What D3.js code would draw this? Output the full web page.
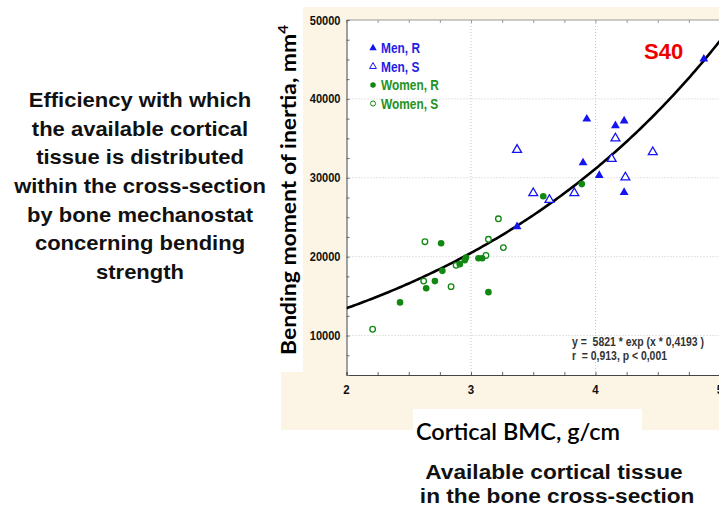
<!DOCTYPE html>
<html>
<head>
<meta charset="utf-8">
<script src="https://cdn.jsdelivr.net/npm/d3@7"></script>
<style>
  body { margin: 0; background: #fff; }
  svg { display: block; }
</style>
</head>
<body>
<div id="viz"></div>
<script>
const width = 719;
const height = 510;
const plot = {left: 346.5, right: 720, top: 20, bottom: 375};
const colorBlue = '#1414f0';
const colorGreen = '#118811';
const colorPanel = '#fcf5e6';
const narrowFont = 'bold 13.5px "Liberation Sans", Arial, sans-serif';

// Data: [cortical BMC g/cm, bending moment of inertia mm4]
const menR = [[3.93, 37450], [4.16, 36600], [4.23, 37200], [3.90, 31900], [4.03, 30300],
  [4.23, 28150], [3.37, 23800], [4.87, 45050]];
const menS = [[3.37, 33550], [4.16, 35000], [4.46, 33250], [4.13, 32400], [4.24, 30050],
  [3.50, 28050], [3.63, 27200], [3.83, 28050]];
const womenR = [[2.43, 14200], [2.76, 21700], [2.64, 16000], [2.71, 16900], [2.77, 18200],
  [2.91, 19050], [2.95, 19550], [2.96, 19900], [3.06, 19800], [3.09, 19800],
  [3.14, 15500], [3.58, 27650], [3.89, 29200]];
const womenS = [[2.21, 10800], [2.63, 21900], [2.62, 16900], [2.84, 16200], [2.88, 18900],
  [3.12, 20150], [3.14, 22200], [3.22, 24800], [3.26, 21150]];

// Fitted curve y = a * exp(x * b)
const fitA = 5821;
const fitB = 0.4193;

const xTicks = [2, 3, 4, 5];
const yTicks = [10000, 20000, 30000, 40000, 50000];
const legendLabels = ['Men, R', 'Men, S', 'Women, R', 'Women, S'];
const leftText = ['Efficiency with which', 'the available cortical', 'tissue is distributed',
  'within the cross-section', 'by bone mechanostat', 'concerning bending', 'strength'];
const bottomText = ['Available cortical tissue', ' in the bone cross-section'];

const xScale = d3.scaleLinear().domain([2, 5]).range([plot.left, plot.right]);
const yScale = d3.scaleLinear().domain([5000, 50000]).range([plot.bottom, plot.top]);

const svg = d3.select('#viz')
  .append('svg')
    .attr('width', width)
    .attr('height', height)
    .attr('viewBox', [0, 0, width, height]);

// beige panel behind the chart, with white patches for the axis titles
svg.append('rect')
  .attr('x', 281).attr('y', 7).attr('width', width - 281).attr('height', 423)
  .attr('fill', colorPanel);
svg.append('rect')
  .attr('x', 270).attr('y', 0).attr('width', 33).attr('height', 372)
  .attr('fill', '#fff');
svg.append('rect')
  .attr('x', 413).attr('y', 409).attr('width', 229).attr('height', 30)
  .attr('fill', '#fff');

// plot area
svg.append('rect')
  .attr('x', plot.left).attr('y', plot.top)
  .attr('width', plot.right - plot.left).attr('height', plot.bottom - plot.top)
  .attr('fill', '#fff');

// grid
svg.append('g')
  .selectAll('line')
  .data(yTicks.slice(0, -1))
  .join('line')
    .attr('x1', plot.left).attr('x2', plot.right)
    .attr('y1', d => yScale(d)).attr('y2', d => yScale(d))
    .attr('stroke', '#c8c8c8').attr('stroke-dasharray', '1,2');
svg.append('g')
  .selectAll('line')
  .data(xTicks.slice(1))
  .join('line')
    .attr('x1', d => xScale(d)).attr('x2', d => xScale(d))
    .attr('y1', plot.top).attr('y2', plot.bottom)
    .attr('stroke', '#c8c8c8').attr('stroke-dasharray', '1,2');

// top border with minor ticks
svg.append('line')
  .attr('x1', plot.left).attr('x2', plot.right)
  .attr('y1', plot.top).attr('y2', plot.top)
  .attr('stroke', '#999');
svg.append('g')
  .attr('transform', `translate(0, ${plot.top})`)
  .call(d3.axisTop(xScale).tickValues(d3.range(2, 5.01, 0.25)).tickSize(-3).tickFormat(''))
  .call(g => g.select('.domain').remove())
  .call(g => g.selectAll('line').attr('stroke', '#999'));

// x axis
svg.append('g')
  .attr('transform', `translate(0, ${plot.bottom})`)
  .call(d3.axisBottom(xScale).tickValues(d3.range(2, 5.01, 0.25)).tickSize(-3).tickFormat(''))
  .call(g => g.select('.domain').attr('stroke', '#444'))
  .call(g => g.selectAll('line').attr('stroke', '#666'));
svg.append('g')
  .selectAll('text')
  .data(xTicks)
  .join('text')
    .attr('transform', d => `translate(${xScale(d)}, ${plot.bottom + 19}) scale(0.85, 1)`)
    .attr('text-anchor', 'middle')
    .style('font', narrowFont)
    .attr('fill', '#111')
    .text(d => d);

// y axis
svg.append('g')
  .attr('transform', `translate(${plot.left}, 0)`)
  .call(d3.axisLeft(yScale).tickValues(d3.range(5000, 50001, 2500)).tickSize(-3).tickFormat(''))
  .call(g => g.select('.domain').attr('stroke', '#444'))
  .call(g => g.selectAll('line').attr('stroke', '#666'));
svg.append('g')
  .selectAll('text')
  .data(yTicks)
  .join('text')
    .attr('transform', d => `translate(${plot.left - 6}, ${yScale(d) + 4.5}) scale(0.82, 1)`)
    .attr('text-anchor', 'end')
    .style('font', narrowFont)
    .attr('fill', '#111')
    .text(d => d);

// axis titles
svg.append('text')
  .attr('transform', 'translate(296, 355) rotate(-90)')
  .attr('textLength', 330)
  .attr('lengthAdjust', 'spacingAndGlyphs')
  .style('font', 'bold 21px Lato, "Open Sans", sans-serif')
  .attr('fill', '#000')
  .text('Bending moment of inertia, mm')
  .append('tspan')
    .attr('dy', -8)
    .style('font-size', '14px')
    .text('4');

svg.append('text')
  .attr('x', 416)
  .attr('y', 440)
  .attr('textLength', 204)
  .attr('lengthAdjust', 'spacingAndGlyphs')
  .style('font', '600 22px Lato, "Open Sans", sans-serif')
  .attr('fill', '#000')
  .text('Cortical BMC, g/cm');

// clip for the plot
svg.append('defs').append('clipPath').attr('id', 'plot-clip')
  .append('rect')
    .attr('x', plot.left).attr('y', plot.top)
    .attr('width', plot.right - plot.left).attr('height', plot.bottom - plot.top);

// fitted curve
const curveLine = d3.line()
  .x(d => xScale(d))
  .y(d => yScale(fitA * Math.exp(d * fitB)));
svg.append('path')
  .datum(d3.range(2, 5.001, 0.02))
  .attr('d', curveLine)
  .attr('clip-path', 'url(#plot-clip)')
  .attr('fill', 'none')
  .attr('stroke', '#000')
  .attr('stroke-width', 2.6);

// points
const triangle = d3.symbol().type(d3.symbolTriangle).size(34);
const pointsGroup = svg.append('g').attr('class', 'points');
pointsGroup.selectAll('.men-s')
  .data(menS)
  .join('path')
    .attr('class', 'men-s')
    .attr('transform', d => `translate(${xScale(d[0])}, ${yScale(d[1])})`)
    .attr('d', triangle)
    .attr('fill', '#fff')
    .attr('stroke', colorBlue)
    .attr('stroke-width', 1.3);
pointsGroup.selectAll('.men-r')
  .data(menR)
  .join('path')
    .attr('class', 'men-r')
    .attr('transform', d => `translate(${xScale(d[0])}, ${yScale(d[1])})`)
    .attr('d', triangle)
    .attr('fill', colorBlue);
pointsGroup.selectAll('.women-s')
  .data(womenS)
  .join('circle')
    .attr('class', 'women-s')
    .attr('cx', d => xScale(d[0]))
    .attr('cy', d => yScale(d[1]))
    .attr('r', 2.8)
    .attr('fill', '#fff')
    .attr('stroke', colorGreen)
    .attr('stroke-width', 1.3);
pointsGroup.selectAll('.women-r')
  .data(womenR)
  .join('circle')
    .attr('class', 'women-r')
    .attr('cx', d => xScale(d[0]))
    .attr('cy', d => yScale(d[1]))
    .attr('r', 3.3)
    .attr('fill', colorGreen);

// legend
const legend = svg.append('g').attr('class', 'legend');
legendLabels.forEach((label, i) => {
  const y = 48 + i * 18.5;
  const isMen = i < 2;
  const filled = i % 2 === 0;
  const color = isMen ? colorBlue : colorGreen;
  const shape = isMen ? d3.symbolTriangle : d3.symbolCircle;
  legend.append('path')
    .attr('transform', `translate(373, ${y})`)
    .attr('d', d3.symbol().type(shape).size(filled ? 24 : 20))
    .attr('fill', filled ? color : '#fff')
    .attr('stroke', color)
    .attr('stroke-width', filled ? 0 : 1);
  legend.append('text')
    .attr('transform', `translate(381, ${y + 5}) scale(0.85, 1)`)
    .style('font', 'bold 14px "Liberation Sans", Arial, sans-serif')
    .attr('fill', isMen ? '#1e1ee6' : '#229222')
    .text(label);
});

// panel label and equation
svg.append('text')
  .attr('x', 644)
  .attr('y', 59)
  .style('font', 'bold 22px "Liberation Sans", Arial, sans-serif')
  .attr('fill', '#ee0000')
  .text('S40');

svg.append('text')
  .attr('x', 572)
  .attr('y', 346)
  .attr('textLength', 132)
  .attr('lengthAdjust', 'spacingAndGlyphs')
  .style('font', 'bold 12px "Liberation Sans", Arial, sans-serif')
  .style('white-space', 'pre')
  .attr('fill', '#333')
  .text(`y =  ${fitA} * exp (x * ${String(fitB).replace('.', ',')} )`);
svg.append('text')
  .attr('x', 572)
  .attr('y', 360)
  .attr('textLength', 95)
  .attr('lengthAdjust', 'spacingAndGlyphs')
  .style('font', 'bold 12px "Liberation Sans", Arial, sans-serif')
  .style('white-space', 'pre')
  .attr('fill', '#333')
  .text('r  = 0,913, p < 0,001');

// explanatory texts
svg.append('g')
  .attr('transform', 'translate(140, 0) scale(1.1, 1)')
  .selectAll('text')
  .data(leftText)
  .join('text')
    .attr('x', 0)
    .attr('y', (d, i) => 107 + i * 28.7)
    .attr('text-anchor', 'middle')
    .style('font', 'bold 20px "Liberation Sans", Arial, sans-serif')
    .attr('fill', '#111')
    .text(d => d);

svg.append('g')
  .attr('transform', 'translate(554, 0) scale(1.08, 1)')
  .selectAll('text')
  .data(bottomText)
  .join('text')
    .attr('x', 0)
    .attr('y', (d, i) => 479 + i * 24.5)
    .attr('text-anchor', 'middle')
    .style('font', 'bold 21px "Liberation Sans", Arial, sans-serif')
    .style('white-space', 'pre')
    .attr('fill', '#111')
    .text(d => d);
</script>
</body>
</html>
